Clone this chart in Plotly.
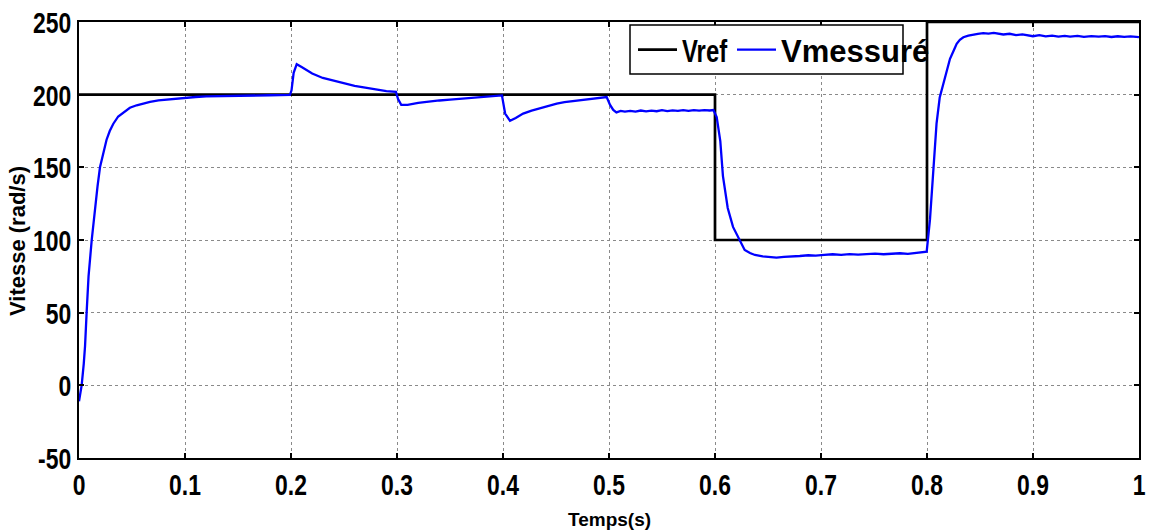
import plotly.graph_objects as go

# Reference speed: step changes (hold value until next breakpoint)
t_ref = [0.0, 0.6, 0.8, 1.0]
v_ref = [200, 100, 250, 250]

# Measured speed samples (rad/s)
t_mes = [
    0.0000, 0.0025, 0.0045, 0.0057, 0.0072, 0.0090, 0.0120, 0.0151, 0.0175,
    0.0198, 0.0230, 0.0260, 0.0290, 0.0324, 0.0370, 0.0420, 0.0480, 0.0544, 0.0610,
    0.0670, 0.0750, 0.0830, 0.0920, 0.1000, 0.1100, 0.1200, 0.1400, 0.1600, 0.1800,
    0.1990, 0.2005, 0.2025, 0.2054, 0.2100, 0.2150, 0.2200, 0.2300, 0.2400, 0.2500,
    0.2600, 0.2700, 0.2800, 0.2900, 0.2990, 0.3010, 0.3040, 0.3100, 0.3200, 0.3300,
    0.3400, 0.3500, 0.3650, 0.3800, 0.3900, 0.3990, 0.4020, 0.4066, 0.4120, 0.4190,
    0.4270, 0.4350, 0.4430, 0.4507, 0.4580, 0.4663, 0.4740, 0.4820, 0.4900, 0.4978,
    0.5010, 0.5040, 0.5070, 0.5110, 0.5150, 0.5200, 0.5250, 0.5300, 0.5350, 0.5400,
    0.5450, 0.5500, 0.5550, 0.5600, 0.5650, 0.5700, 0.5750, 0.5800, 0.5850, 0.5900,
    0.5950, 0.5985, 0.6016, 0.6050, 0.6075, 0.6120, 0.6170, 0.6236, 0.6280, 0.6330,
    0.6377, 0.6450, 0.6520, 0.6580, 0.6650, 0.6720, 0.6800, 0.6880, 0.6950, 0.7030,
    0.7110, 0.7190, 0.7270, 0.7350, 0.7430, 0.7510, 0.7590, 0.7670, 0.7745, 0.7820,
    0.7900, 0.7965, 0.7997, 0.8028, 0.8060, 0.8090, 0.8120, 0.8150, 0.8185, 0.8217,
    0.8250, 0.8280, 0.8310, 0.8343, 0.8390, 0.8437, 0.8480, 0.8530, 0.8580, 0.8630,
    0.8680, 0.8720, 0.8780, 0.8840, 0.8900, 0.8950, 0.9000, 0.9060, 0.9120, 0.9180,
    0.9240, 0.9300, 0.9350, 0.9420, 0.9480, 0.9550, 0.9620, 0.9680, 0.9740, 0.9800,
    0.9860, 0.9920, 1.0000,
]
v_mes = [
    -11.0, 0.0, 15.0, 27.0, 50.0, 75.0, 100.0, 123.0, 137.0,
    150.0, 161.0, 169.0, 175.0, 180.0, 185.0, 188.0, 191.0, 192.7, 194.0,
    195.0, 196.0, 196.6, 197.4, 198.0, 198.4, 198.8, 199.2, 199.4, 199.6,
    199.8, 203.0, 215.0, 221.0, 219.0, 216.5, 214.5, 211.5, 209.5, 208.0,
    206.0, 204.8, 203.5, 202.5, 202.0, 197.0, 193.0, 193.0, 194.3, 195.3,
    196.0, 196.6, 197.6, 198.4, 199.0, 199.5, 187.0, 182.0, 184.0, 187.0,
    189.0, 190.8, 192.4, 193.8, 194.8, 195.6, 196.3, 196.8, 197.5, 198.4,
    193.0, 189.5, 187.8, 188.8, 188.4, 188.9, 188.3, 189.1, 188.5, 189.0,
    188.6, 189.3, 188.7, 189.2, 188.9, 189.4, 188.9, 189.3, 189.0, 189.4,
    189.1, 189.4, 184.6, 168.0, 144.0, 122.0, 109.0, 99.0, 93.1, 91.0,
    89.7, 88.8, 88.2, 87.9, 88.4, 88.9, 89.0, 89.5, 89.3, 89.8,
    90.2, 89.8, 90.3, 90.0, 90.2, 90.6, 90.2, 90.6, 90.9, 90.5,
    91.0, 91.3, 92.0, 114.0, 150.0, 180.0, 198.0, 206.0, 216.0, 224.7,
    230.0, 235.0, 237.7, 239.5, 240.6, 241.4, 241.9, 242.3, 242.0, 242.5,
    241.8, 241.4, 241.9, 241.0, 241.5, 240.6, 240.2, 240.9, 240.1, 240.6,
    239.9, 240.4, 240.0, 240.5, 239.8, 240.3, 239.9, 240.3, 239.7, 240.2,
    239.8, 240.1, 239.6,
]

x_ticks = [0, 0.1, 0.2, 0.3, 0.4, 0.5, 0.6, 0.7, 0.8, 0.9, 1]
x_tick_text = ["0", "0.1", "0.2", "0.3", "0.4", "0.5", "0.6", "0.7", "0.8", "0.9", "1"]
y_ticks = [-50, 0, 50, 100, 150, 200, 250]
y_tick_text = ["-50", "0", "50", "100", "150", "200", "250"]
x_title = "Temps(s)"
y_title = "Vitesse (rad/s)"

FONT = "Liberation Sans, Arial, sans-serif"

# plot area in pixels: x 79..1139, y 22..458
PL, PR, PT, PB = 79, 1139, 22, 458


def px_x(p):
    return (p - PL) / (PR - PL)


def px_y(p):
    return (PB - p) / (PB - PT)


fig = go.Figure()
fig.add_trace(go.Scatter(
    x=t_ref, y=v_ref, mode="lines", name="Vref", line_shape="hv",
    line=dict(color="black", width=2.7), legend="legend",
))
fig.add_trace(go.Scatter(
    x=t_mes, y=v_mes, mode="lines", name="Vmessuré",
    line=dict(color="#0000ff", width=2.3), legend="legend2",
))

axis_common = dict(
    showline=True, linecolor="black", linewidth=2, mirror="ticks",
    ticks="inside", ticklen=5, tickwidth=1.5, tickcolor="black",
    showgrid=True, gridcolor="#8a8a8a", griddash="dot", gridwidth=1,
    zeroline=False, automargin=False,
)

fig.update_xaxes(
    range=[0, 1], tickvals=x_ticks, ticktext=x_tick_text, ticklabelstandoff=0,
    tickfont=dict(family=FONT, size=29, color="black", weight="bold"),
    **axis_common,
)
fig.update_yaxes(
    range=[-50, 250], tickvals=y_ticks, ticktext=y_tick_text, ticklabelshift=1,
    tickfont=dict(family=FONT, size=29, color="black", weight="bold"),
    **axis_common,
)

legend_common = dict(
    orientation="h", xanchor="left", yanchor="middle", y=px_y(50),
    bgcolor="rgba(0,0,0,0)", borderwidth=0, itemwidth=39,
    font=dict(family=FONT, size=31, color="black", weight="bold"),
)

fig.update_layout(
    width=1154, height=532,
    margin=dict(l=PL, r=1154 - PR, t=PT, b=532 - PB),
    paper_bgcolor="white", plot_bgcolor="white",
    showlegend=True,
    legend=dict(x=px_x(633), **legend_common),
    legend2=dict(x=px_x(732), **legend_common),
    shapes=[dict(
        type="rect", xref="paper", yref="paper", layer="above",
        x0=px_x(630), x1=px_x(903), y0=px_y(74), y1=px_y(25),
        line=dict(color="black", width=1.5), fillcolor="white",
    )],
    annotations=[
        # axis titles
        dict(text=x_title, xref="paper", yref="paper", x=0.5, y=px_y(519),
             xanchor="center", yanchor="middle", showarrow=False,
             font=dict(family=FONT, size=19, color="black", weight="bold")),
        dict(text=y_title, xref="paper", yref="paper", x=px_x(18), y=px_y(241),
             xanchor="center", yanchor="middle", showarrow=False, textangle=-90,
             font=dict(family=FONT, size=22, color="black", weight="bold")),
    ],
)

# Narrow the bold labels horizontally (condensed look)
squeeze_js = """
var gd = document.getElementById('{plot_id}');
function squeezeText() {
  var groups = [['.xtick text', 0.79], ['.ytick text', 0.79], ['.legendtext', 0.77]];
  groups.forEach(function (g) {
    gd.querySelectorAll(g[0]).forEach(function (t) {
      var key = t.textContent;
      if (t.getAttribute('data-sq') === key) return;
      t.removeAttribute('textLength');
      var w = t.getComputedTextLength();
      if (!(w > 0)) return;
      t.setAttribute('textLength', (w * g[1]).toFixed(2));
      t.setAttribute('lengthAdjust', 'spacingAndGlyphs');
      t.setAttribute('data-sq', key);
    });
  });
}
squeezeText();
gd.on('plotly_afterplot', squeezeText);
[0, 50, 200, 600, 1500].forEach(function (ms) { setTimeout(squeezeText, ms); });
"""

fig.write_html("out.html", post_script=squeeze_js)
